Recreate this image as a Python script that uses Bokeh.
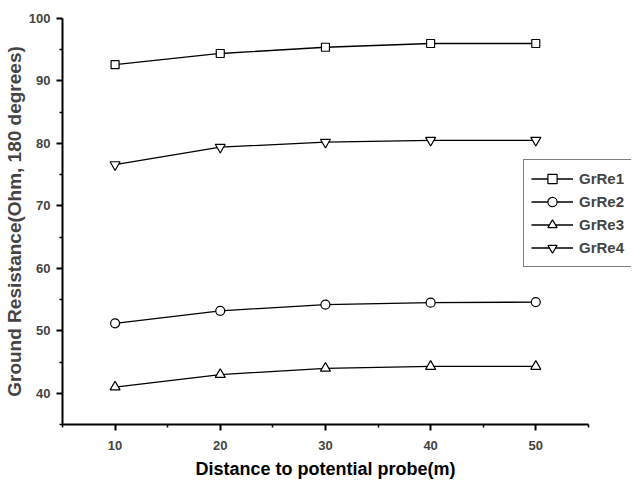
from bokeh.plotting import figure
from bokeh.models import FixedTicker, Legend, LegendItem, Range1d, Title
from bokeh.embed import file_html
from bokeh.resources import INLINE

distance = [10, 20, 30, 40, 50]
grre1 = [92.6, 94.4, 95.4, 96.0, 96.0]
grre2 = [51.2, 53.2, 54.2, 54.5, 54.6]
grre3 = [41.0, 43.0, 44.0, 44.3, 44.3]
grre4 = [76.6, 79.4, 80.2, 80.5, 80.5]
series_names = ["GrRe1", "GrRe2", "GrRe3", "GrRe4"]
x_ticks = [10, 20, 30, 40, 50]
x_minor = [5, 15, 25, 35, 45, 55]
y_ticks = [40, 50, 60, 70, 80, 90, 100]
y_minor = [35, 45, 55, 65, 75, 85, 95]
x_title = "Distance to potential probe(m)"
y_title = "Ground Resistance(Ohm, 180 degrees)"

FONT = "Liberation Sans"

p = figure(width=632, height=482, output_backend="svg", toolbar_location=None,
           x_range=Range1d(5, 59.1), y_range=Range1d(35, 100),
           min_border_left=62, min_border_right=1, min_border_top=18, min_border_bottom=57)
p.outline_line_color = None
p.grid.visible = False
p.background_fill_color = "white"

markers = ["square", "circle", "triangle", "inverted_triangle"]
sizes = [8, 9, 10, 10]
items = []
for name, ys, mk, sz in zip(series_names, [grre1, grre2, grre3, grre4], markers, sizes):
    ln = p.line(distance, ys, line_color="black", line_width=1.3)
    sc = p.scatter(distance, ys, marker=mk, size=sz, line_color="black",
                   fill_color="white", line_width=1.2)
    items.append(LegendItem(label=name, renderers=[ln, sc]))

legend = Legend(items=items, location=(461, 157), border_line_color="black",
                border_line_width=1.5, background_fill_color="white",
                background_fill_alpha=1, padding=7, margin=0, spacing=0,
                glyph_width=42, glyph_height=23, label_height=23,
                label_standoff=6, label_text_font=FONT,
                label_text_font_style="bold", label_text_font_size="15px")
p.add_layout(legend, "center")

for ax in (p.xaxis[0], p.yaxis[0]):
    ax.axis_line_width = 2
    ax.major_tick_line_width = 2
    ax.minor_tick_line_width = 1.5
    ax.major_tick_out = 6
    ax.major_tick_in = 0
    ax.minor_tick_out = 3
    ax.minor_tick_in = 0
    ax.major_label_text_font = FONT
    ax.major_label_text_font_style = "bold"
    ax.major_label_text_font_size = "13px"
    ax.axis_label_text_font = FONT
    ax.axis_label_text_font_style = "bold"

p.xaxis.ticker = FixedTicker(ticks=x_ticks, minor_ticks=x_minor)
p.yaxis.ticker = FixedTicker(ticks=y_ticks, minor_ticks=y_minor)
p.xaxis.bounds = (5, 55)
p.yaxis.axis_label = y_title
p.yaxis.axis_label_text_font_size = "19px"
p.xaxis.major_label_standoff = 10
p.yaxis.major_label_standoff = 6
p.yaxis.axis_label_standoff = 1

xtitle = Title(text=x_title, align="left", offset=133, standoff=8,
               text_font=FONT, text_font_style="bold", text_font_size="18px",
               text_color="black")
p.add_layout(xtitle, "below")

open("out.html", "w").write(file_html(p, INLINE))
